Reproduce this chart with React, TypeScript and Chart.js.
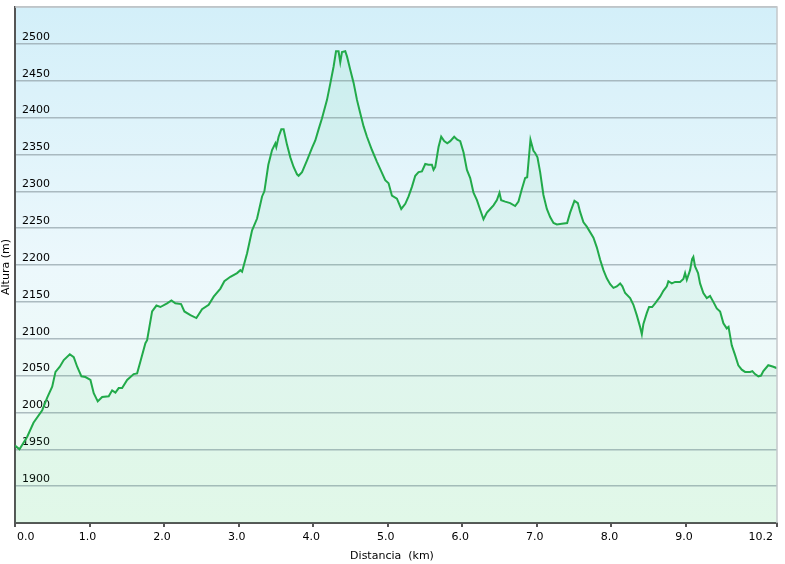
import React, { useEffect, useRef } from "react";
import { Chart, registerables } from "chart.js";

Chart.register(...registerables);

// Distance along the route (km)
const distanceKm = [
  0.0, 0.06, 0.164, 0.248, 0.365, 0.432, 0.499, 0.543, 0.601, 0.654, 0.735, 0.788, 0.834, 0.891, 0.945,
  1.012, 1.056, 1.11, 1.169, 1.257, 1.303, 1.347, 1.391, 1.437, 1.504, 1.592, 1.638, 1.682, 1.749, 1.772,
  1.839, 1.897, 1.95, 2.04, 2.098, 2.151, 2.228, 2.272, 2.353, 2.433, 2.509, 2.598, 2.665, 2.755, 2.808,
  2.889, 2.979, 3.023, 3.046, 3.113, 3.18, 3.247, 3.314, 3.345, 3.398, 3.448, 3.492, 3.505, 3.536, 3.572,
  3.603, 3.649, 3.693, 3.737, 3.783, 3.804, 3.85, 3.917, 3.984, 4.028, 4.072, 4.118, 4.185, 4.229, 4.273,
  4.306, 4.34, 4.363, 4.386, 4.43, 4.453, 4.497, 4.542, 4.587, 4.631, 4.676, 4.721, 4.788, 4.855, 4.922,
  4.966, 5.011, 5.056, 5.123, 5.181, 5.235, 5.279, 5.324, 5.369, 5.413, 5.458, 5.503, 5.547, 5.592, 5.614,
  5.637, 5.681, 5.717, 5.757, 5.798, 5.838, 5.891, 5.932, 5.972, 6.016, 6.062, 6.106, 6.15, 6.196, 6.24,
  6.284, 6.33, 6.374, 6.418, 6.464, 6.499, 6.521, 6.575, 6.642, 6.709, 6.753, 6.799, 6.843, 6.87, 6.914,
  6.954, 6.977, 7.008, 7.044, 7.088, 7.134, 7.178, 7.223, 7.268, 7.335, 7.406, 7.446, 7.504, 7.55, 7.58,
  7.625, 7.67, 7.759, 7.804, 7.849, 7.893, 7.938, 7.983, 8.027, 8.072, 8.117, 8.147, 8.184, 8.251, 8.295,
  8.34, 8.385, 8.408, 8.429, 8.475, 8.505, 8.546, 8.586, 8.653, 8.697, 8.743, 8.764, 8.81, 8.854, 8.921,
  8.965, 8.988, 9.011, 9.055, 9.082, 9.099, 9.122, 9.162, 9.189, 9.233, 9.279, 9.323, 9.367, 9.413, 9.458,
  9.502, 9.547, 9.571, 9.614, 9.658, 9.702, 9.748, 9.793, 9.861, 9.89, 9.926, 9.971, 10.007, 10.038, 10.104,
  10.172, 10.221,
];

// Elevation (m)
const elevationM = [
  1955, 1950, 1967, 1986, 2003, 2020, 2035, 2055, 2062, 2071, 2079, 2075, 2062, 2049, 2048,
  2044, 2026, 2015, 2021, 2022, 2030, 2027, 2033, 2033, 2044, 2052, 2053, 2069, 2094, 2098,
  2137, 2145, 2143, 2148, 2152, 2148, 2147, 2137, 2132, 2128, 2140, 2146, 2157, 2168, 2178,
  2184, 2189, 2193, 2191, 2216, 2247, 2263, 2293, 2300, 2336, 2356, 2365, 2360, 2374, 2384,
  2384, 2363, 2346, 2333, 2323, 2321, 2326, 2342, 2359, 2369, 2384, 2399, 2424, 2446, 2469,
  2490, 2490, 2475, 2489, 2490, 2483, 2465, 2447, 2424, 2406, 2388, 2374, 2356, 2340, 2325,
  2315, 2311, 2294, 2290, 2276, 2283, 2293, 2306, 2321, 2326, 2327, 2337, 2336, 2336, 2329,
  2333, 2360, 2374, 2368, 2365, 2368, 2374, 2370, 2368, 2353, 2329, 2318, 2298, 2288, 2275,
  2262, 2271, 2276, 2281, 2288, 2298, 2288, 2286, 2284, 2280, 2286, 2303, 2318, 2319, 2370,
  2355, 2352, 2346, 2326, 2295, 2276, 2265, 2257, 2255, 2256, 2257, 2271, 2287, 2284, 2272,
  2258, 2252, 2237, 2224, 2207, 2193, 2182, 2174, 2169, 2171, 2175, 2171, 2162, 2155, 2146,
  2132, 2116, 2106, 2120, 2135, 2143, 2143, 2148, 2157, 2165, 2171, 2178, 2175, 2177, 2177,
  2181, 2189, 2180, 2193, 2208, 2211, 2198, 2189, 2175, 2162, 2155, 2158, 2150, 2141, 2137,
  2121, 2114, 2116, 2091, 2078, 2064, 2058, 2055, 2055, 2056, 2052, 2049, 2050, 2056, 2064,
  2062, 2060,
];

const xTickValues = [0, 1, 2, 3, 4, 5, 6, 7, 8, 9, 10.221];
const xMax = 10.221;
const yMin = 1850;
const yMax = 2550;
const yStep = 50;
const yUnlabelled = [1850, 2550];
const xTitle = "Distancia  (km)";
const yTitle = "Altura (m)";

const FONT = "'DejaVu Sans', Verdana, sans-serif";

const bgPlugin = {
  id: "bgPlugin",
  beforeDraw(chart: any) {
    const { ctx, chartArea, width, height } = chart;
    ctx.save();
    ctx.fillStyle = "#ffffff";
    ctx.fillRect(0, 0, width, height);
    const g = ctx.createLinearGradient(0, chartArea.top, 0, chartArea.bottom);
    g.addColorStop(0, "#d3eff9");
    g.addColorStop(0.5, "#ecf8fc");
    g.addColorStop(1, "#effcf2");
    ctx.fillStyle = g;
    ctx.fillRect(chartArea.left, chartArea.top, chartArea.right - chartArea.left, chartArea.bottom - chartArea.top);
    ctx.restore();
  },
  afterDraw(chart: any) {
    const { ctx, chartArea } = chart;
    const xs = chart.scales.x;
    ctx.save();
    // right and top frame
    ctx.strokeStyle = "#c4c8ca";
    ctx.lineWidth = 1.5;
    ctx.beginPath();
    ctx.moveTo(chartArea.left, chartArea.top);
    ctx.lineTo(chartArea.right, chartArea.top);
    ctx.lineTo(chartArea.right, chartArea.bottom);
    ctx.stroke();
    // x tick labels, kept inside the frame at both ends
    ctx.fillStyle = "#000";
    ctx.font = `11px ${FONT}`;
    ctx.textBaseline = "middle";
    xTickValues.forEach((v, i) => {
      const px = xs.getPixelForValue(v);
      const label = v.toFixed(1);
      if (i === 0) {
        ctx.textAlign = "left";
        ctx.fillText(label, px + 2, 537);
      } else if (i === xTickValues.length - 1) {
        ctx.textAlign = "right";
        ctx.fillText(label, px - 4, 537);
      } else {
        ctx.textAlign = "center";
        ctx.fillText(label, px - 2, 537);
      }
    });
    // titles
    ctx.textAlign = "center";
    ctx.fillText(xTitle, 392, 556);
    ctx.translate(6, 267);
    ctx.rotate(-Math.PI / 2);
    ctx.fillText(yTitle, 0, 0);
    ctx.restore();
  },
};

export default function App() {
  const ref = useRef<HTMLCanvasElement | null>(null);

  useEffect(() => {
    if (!ref.current) return;
    const points = distanceKm.map((d, i) => ({ x: d, y: elevationM[i] }));
    const chart = new Chart(ref.current, {
      type: "line",
      data: {
        datasets: [
          {
            data: points,
            borderColor: "#22aa4a",
            borderWidth: 2,
            backgroundColor: "rgba(60, 200, 110, 0.08)",
            fill: "origin",
            pointRadius: 0,
            tension: 0,
          },
        ],
      },
      options: {
        animation: false,
        responsive: false,
        devicePixelRatio: 1,
        layout: { padding: { top: 7, right: 8, left: 0, bottom: 0 } },
        plugins: { legend: { display: false }, tooltip: { enabled: false } },
        scales: {
          x: {
            type: "linear",
            min: 0,
            max: xMax,
            afterBuildTicks: (scale: any) => {
              scale.ticks = xTickValues.map((v) => ({ value: v }));
            },
            afterFit: (scale: any) => {
              scale.height = 41;
              scale.paddingLeft = 0;
              scale.paddingRight = 0;
            },
            ticks: {
              display: false,
              autoSkip: false,
              maxRotation: 0,
            },
            grid: {
              drawOnChartArea: false,
              drawTicks: true,
              tickLength: 4,
              color: "#555",
              lineWidth: 2,
            },
            border: { display: true, color: "#555", width: 2 },
          },
          y: {
            type: "linear",
            min: yMin,
            max: yMax,
            afterFit: (scale: any) => {
              scale.width = 15;
              scale.paddingTop = 0;
              scale.paddingBottom = 0;
            },
            ticks: {
              stepSize: yStep,
              mirror: true,
              padding: 7,
              labelOffset: -7,
              color: "#000",
              font: { family: FONT, size: 11 },
              callback: (v: any) => (yUnlabelled.includes(Number(v)) ? "" : String(v)),
            },
            grid: {
              drawTicks: false,
              color: "rgba(150, 165, 172, 0.75)",
              lineWidth: 1.5,
            },
            border: { display: true, color: "#555", width: 2 },
          },
        },
      },
      plugins: [bgPlugin],
    });
    return () => chart.destroy();
  }, []);

  return (
    <div style={{ position: "absolute", left: 0, top: 0, width: 785, height: 564 }}>
      <canvas ref={ref} width={785} height={564} style={{ width: 785, height: 564, display: "block" }} />
    </div>
  );
}
